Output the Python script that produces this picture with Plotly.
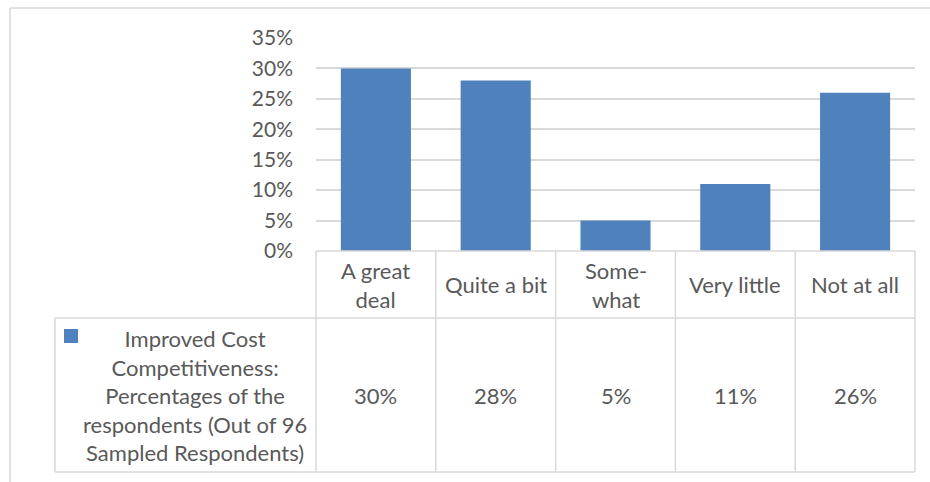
import plotly.graph_objects as go

# Survey results: improved cost competitiveness
categories = ["A great deal", "Quite a bit", "Somewhat", "Very little", "Not at all"]
category_labels = ["A great<br>deal", "Quite a bit", "Some-<br>what", "Very little", "Not at all"]
percentages = [0.30, 0.28, 0.05, 0.11, 0.26]
series_name = ("Improved Cost<br>Competitiveness:<br>Percentages of the<br>"
               "respondents (Out of 96<br>Sampled Respondents)")
y_ticks = [0, 0.05, 0.10, 0.15, 0.20, 0.25, 0.30, 0.35]

W, H = 930, 482
L, R, T, B = 316, 915, 38, 251          # plot area in pixels
BAR = "#4F81BD"
TXT = "#595959"
GRID = "#D9D9D9"
FONT = "Lato"
FS = 22


def px_x(px):
    return (px - L) / (R - L)


def px_y(py):
    return (B - py) / (B - T)


n = len(categories)
fig = go.Figure(go.Bar(
    x=list(range(n)), y=percentages, marker=dict(color=BAR, line=dict(width=0)),
    name="Improved Cost Competitiveness", showlegend=False, hoverinfo="skip"))

fig.update_layout(
    width=W, height=H,
    margin=dict(l=L, r=W - R, t=T, b=H - B),
    paper_bgcolor="white", plot_bgcolor="white",
    bargap=0.415,
    font=dict(family=FONT, size=FS, color=TXT),
    xaxis=dict(range=[-0.5, n - 0.5], showticklabels=False, showgrid=False,
               zeroline=False, showline=False, fixedrange=True),
    yaxis=dict(range=[0, 0.35], tickvals=y_ticks,
               ticktext=[f"{round(v * 100)}%" for v in y_ticks],
               showgrid=True, gridcolor=GRID, gridwidth=1.5, zeroline=False,
               showline=False, ticks="", ticklabelstandoff=22,
               tickfont=dict(family=FONT, size=21, color=TXT), fixedrange=True),
)

shapes = []


def line(x0, y0, x1, y1, color=GRID, width=1.5):
    shapes.append(dict(type="line", xref="paper", yref="paper",
                       x0=px_x(x0), y0=px_y(y0), x1=px_x(x1), y1=px_y(y1),
                       line=dict(color=color, width=width), layer="above"))


# outer chart border (top and left edges)
line(10, 8, W, 8)
line(10, 8, 10, H)

# data table grid
row1_top, row2_top, row2_bot = 251, 318, 472
legend_left = 55
line(L, row1_top, R, row1_top)
line(legend_left, row2_top, R, row2_top)
line(legend_left, row2_bot, R, row2_bot)
line(legend_left, row2_top, legend_left, row2_bot)
step = (R - L) / n
for i in range(n + 1):
    xb = L + i * step
    line(xb, row1_top, xb, row2_bot)

# legend key
shapes.append(dict(type="rect", xref="paper", yref="paper",
                   x0=px_x(64), x1=px_x(78), y0=px_y(343), y1=px_y(329),
                   fillcolor=BAR, line=dict(width=0)))

annotations = []
for i, (lab, v) in enumerate(zip(category_labels, percentages)):
    annotations.append(dict(x=i, xref="x", y=px_y((row1_top + row2_top) / 2),
                            yref="paper", text=lab, showarrow=False,
                            font=dict(family=FONT, size=FS, color=TXT),
                            xanchor="center", yanchor="middle", align="center"))
    annotations.append(dict(x=i, xref="x", y=px_y((row2_top + row2_bot) / 2),
                            yref="paper", text=f"{round(v * 100)}%", showarrow=False,
                            font=dict(family=FONT, size=FS, color=TXT),
                            xanchor="center", yanchor="middle"))

annotations.append(dict(x=px_x(195), xref="paper", y=px_y((row2_top + row2_bot) / 2),
                        yref="paper", text=series_name, showarrow=False,
                        font=dict(family=FONT, size=FS, color=TXT),
                        xanchor="center", yanchor="middle", align="center"))

fig.update_layout(shapes=shapes, annotations=annotations)
fig.write_html("out.html")
